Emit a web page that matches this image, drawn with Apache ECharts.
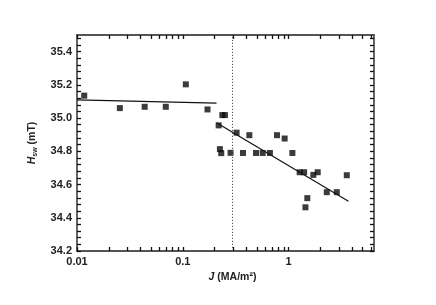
<!DOCTYPE html>
<html>
<head>
<meta charset="utf-8">
<script src="https://cdn.jsdelivr.net/npm/echarts@6/dist/echarts.min.js"></script>
<style>html,body{margin:0;padding:0;background:#fff}#c{width:436px;height:305px}</style>
</head>
<body>
<div id="c"></div>
<script>
// Measured data: current density J (MA/m^2) and switching field H_sw (mT)
const jValues = [0.0117, 0.0254, 0.0436, 0.069, 0.1067, 0.171, 0.218, 0.236, 0.25, 0.224, 0.2306, 0.2825, 0.322, 0.37, 0.425, 0.491, 0.568, 0.665, 0.776, 0.916, 1.084, 1.27, 1.40, 1.44, 1.50, 1.71, 1.88, 2.29, 2.85, 3.54];
const hValues = [35.135, 35.06, 35.068, 35.068, 35.203, 35.052, 34.956, 35.018, 35.018, 34.813, 34.789, 34.791, 34.912, 34.79, 34.897, 34.79, 34.79, 34.79, 34.897, 34.877, 34.79, 34.674, 34.674, 34.463, 34.518, 34.658, 34.674, 34.554, 34.554, 34.656];
// Fit lines
const fitLowJ = [0.01, 0.208];
const fitLowH = [35.11, 35.09];
const fitHighJ = [0.208, 3.67];
const fitHighH = [34.972, 34.499];
// Boundary
const boundaryJ = 0.29;
// Axes
const xMin = 0.01, xMax = 6.4;
const xLabelValues = [0.01, 0.1, 1];
const xTickValues = [0.01,0.02,0.03,0.04,0.05,0.06,0.07,0.08,0.09,0.1,0.2,0.3,0.4,0.5,0.6,0.7,0.8,0.9,1,2,3,4,5,6];
const yMin = 34.2, yMax = 35.5;
const yLabelValues = [34.2, 34.4, 34.6, 34.8, 35.0, 35.2, 35.4];
const yTickValues = [];
for (let i = 0; i <= 32; i++) yTickValues.push(+(34.2 + i * 0.04).toFixed(2));

const zip = (a, b) => a.map((v, i) => [v, b[i]]);
const font = '"Liberation Sans", Arial, sans-serif';
const lineColor = '#555';

const chart = echarts.init(document.getElementById('c'), null, {renderer: 'canvas'});
const baseX = {
  type: 'log', logBase: 10, min: xMin, max: xMax,
  axisLine: {show: true, lineStyle: {color: lineColor, width: 1.8}},
  splitLine: {show: false},
  axisTick: {show: true, inside: true, length: 4, customValues: xTickValues, lineStyle: {color: '#111', width: 1.3}},
  minorTick: {show: false}
};
const baseY = {
  type: 'value', min: yMin, max: yMax,
  axisLine: {show: true, lineStyle: {color: lineColor, width: 1.8}},
  splitLine: {show: false},
  axisTick: {show: true, inside: true, length: 4, customValues: yTickValues, lineStyle: {color: '#111', width: 1.3}}
};
chart.setOption({
  animation: false,
  textStyle: {fontFamily: font},
  grid: {left: 77, right: 62, top: 35, bottom: 54},
  xAxis: [
    Object.assign({}, baseX, {
      position: 'bottom',
      name: '{i|J} (MA/m²)', nameLocation: 'middle', nameGap: 19,
      nameTextStyle: {fontFamily: font, fontSize: 10.5, color: '#222', fontWeight: 'bold', padding: [0, 0, 0, 14],
        rich: {i: {fontStyle: 'italic', fontSize: 10.5, fontWeight: 'bold', color: '#222', fontFamily: font}}},
      axisLabel: {show: true, customValues: xLabelValues, margin: 5, fontSize: 11, color: '#222', fontFamily: font, fontWeight: 'bold',
        formatter: v => String(+v.toPrecision(3))}
    }),
    Object.assign({}, baseX, {position: 'top', axisLabel: {show: false}})
  ],
  yAxis: [
    Object.assign({}, baseY, {
      position: 'left',
      name: '{i|H}{s|sw} (mT)', nameLocation: 'middle', nameGap: 38, nameRotate: 90,
      nameTextStyle: {fontFamily: font, fontSize: 10.5, color: '#222', fontWeight: 'bold',
        rich: {i: {fontStyle: 'italic', fontSize: 10.5, fontWeight: 'bold', color: '#222', fontFamily: font},
               s: {fontSize: 7, fontWeight: 'bold', color: '#222', fontFamily: font, padding: [6, 0, 0, 0]}}},
      axisLabel: {show: true, customValues: yLabelValues, margin: 5, fontSize: 11, color: '#222', fontFamily: font, fontWeight: 'bold',
        formatter: v => v.toFixed(1)}
    }),
    Object.assign({}, baseY, {position: 'right', axisLabel: {show: false}})
  ],
  series: [
    {
      type: 'line', xAxisIndex: 0, yAxisIndex: 0, data: zip(fitLowJ, fitLowH),
      showSymbol: false, lineStyle: {color: '#111', width: 1.2}, silent: true,
      markLine: {
        silent: true, symbol: 'none', label: {show: false},
        lineStyle: {color: '#555', type: [1.2, 1.8], width: 1},
        data: [{xAxis: boundaryJ}]
      }
    },
    {
      type: 'line', xAxisIndex: 0, yAxisIndex: 0, data: zip(fitHighJ, fitHighH),
      showSymbol: false, lineStyle: {color: '#111', width: 1.2}, silent: true
    },
    {
      type: 'scatter', xAxisIndex: 0, yAxisIndex: 0, data: zip(jValues, hValues),
      symbol: 'rect', symbolSize: 6, itemStyle: {color: '#0a0a0a'}
    }
  ]
});
</script>
</body>
</html>
